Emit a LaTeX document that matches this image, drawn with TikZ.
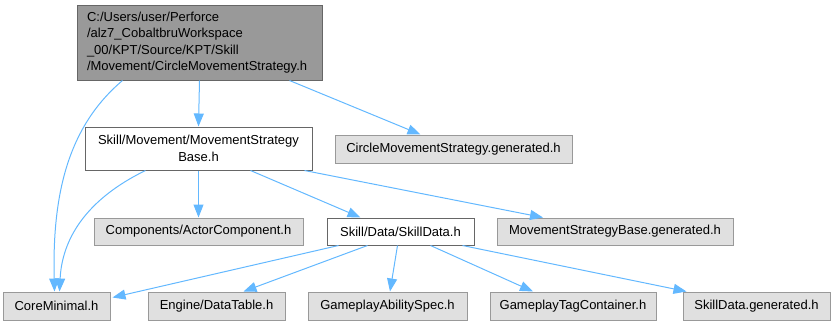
\documentclass[tikz,border=0pt]{standalone}
\usepackage{fontspec}
\setmainfont{Liberation Sans}
\usetikzlibrary{arrows.meta}
\definecolor{edgeblue}{HTML}{63B8FF}
\definecolor{boxgray}{HTML}{E0E0E0}
\definecolor{rootgray}{HTML}{999999}
\definecolor{linegray}{HTML}{666666}
\begin{document}
\begin{tikzpicture}[x=1pt, y=-1pt, font=\fontsize{13}{16.5}\selectfont,
    hdr/.style={draw=rootgray, fill=boxgray, line width=1pt, inner sep=0pt, minimum height=28pt},
    own/.style={hdr, draw=linegray, fill=white},
    dep/.style={draw=edgeblue, line width=1pt, -{Triangle[length=13pt,width=10pt]}}]
    \useasboundingbox (0,0) rectangle (833,325);
    % file being documented
    \node[own, fill=rootgray, text width=225pt, inner xsep=10pt, minimum height=75pt, align=left] (circle) at (199.5,42.5)
        {C:/Users/user/Perforce\\/alz7\_CobaltbruWorkspace\\\_00/KPT/Source/KPT/Skill\\/Movement/CircleMovementStrategy.h};
    % second row
    \node[own, minimum width=227pt, minimum height=43pt, align=center] (strategybase) at (198.5,148.5)
        {Skill/Movement/MovementStrategy\\Base.h};
    \node[hdr, minimum width=237pt] (circlegen) at (453.5,149) {CircleMovementStrategy.generated.h};
    % third row
    \node[hdr, minimum width=209pt, minimum height=27pt] (actorcomp) at (198.5,231.5) {Components/ActorComponent.h};
    \node[own, minimum width=147pt, minimum height=27pt] (skilldata) at (400.5,231.5) {Skill/Data/SkillData.h};
    \node[hdr, minimum width=236pt, minimum height=27pt] (basegen) at (615,231.5) {MovementStrategyBase.generated.h};
    % bottom row
    \node[hdr, minimum width=107pt] (coremin) at (56.5,306) {CoreMinimal.h};
    \node[hdr, minimum width=137pt] (datatable) at (216.5,306) {Engine/DataTable.h};
    \node[hdr, minimum width=159pt] (abilityspec) at (387.5,306) {GameplayAbilitySpec.h};
    \node[hdr, minimum width=166pt] (tagcont) at (573,306) {GameplayTagContainer.h};
    \node[hdr, minimum width=147pt] (skilldatagen) at (756.5,306) {SkillData.generated.h};

    \draw[dep] ([xshift=-77pt]circle.south) .. controls (70,125) and (52,190) .. ([xshift=-2pt]coremin.north);
    \draw[dep] (circle.south) -- (strategybase.north);
    \draw[dep] ([xshift=90pt]circle.south) -- ([xshift=-33pt]circlegen.north);
    \draw[dep] ([xshift=-53pt]strategybase.south) .. controls (85,200) and (62,240) .. ([xshift=3pt]coremin.north);
    \draw[dep] (strategybase.south) -- (actorcomp.north);
    \draw[dep] ([xshift=52pt]strategybase.south) -- ([xshift=-40pt]skilldata.north);
    \draw[dep] ([xshift=106pt]strategybase.south) -- ([xshift=-72pt]basegen.north);
    \draw[dep] ([xshift=-62pt]skilldata.south) -- ([xshift=2pt,yshift=-6pt]coremin.north east);
    \draw[dep] ([xshift=-33pt]skilldata.south) -- ([xshift=27pt]datatable.north);
    \draw[dep] ([xshift=-3pt]skilldata.south) -- ([xshift=2.5pt]abilityspec.north);
    \draw[dep] ([xshift=30pt]skilldata.south) -- ([xshift=-40pt]tagcont.north);
    \draw[dep] ([xshift=62pt]skilldata.south) -- ([xshift=4pt]skilldatagen.north west);
\end{tikzpicture}
\end{document}
